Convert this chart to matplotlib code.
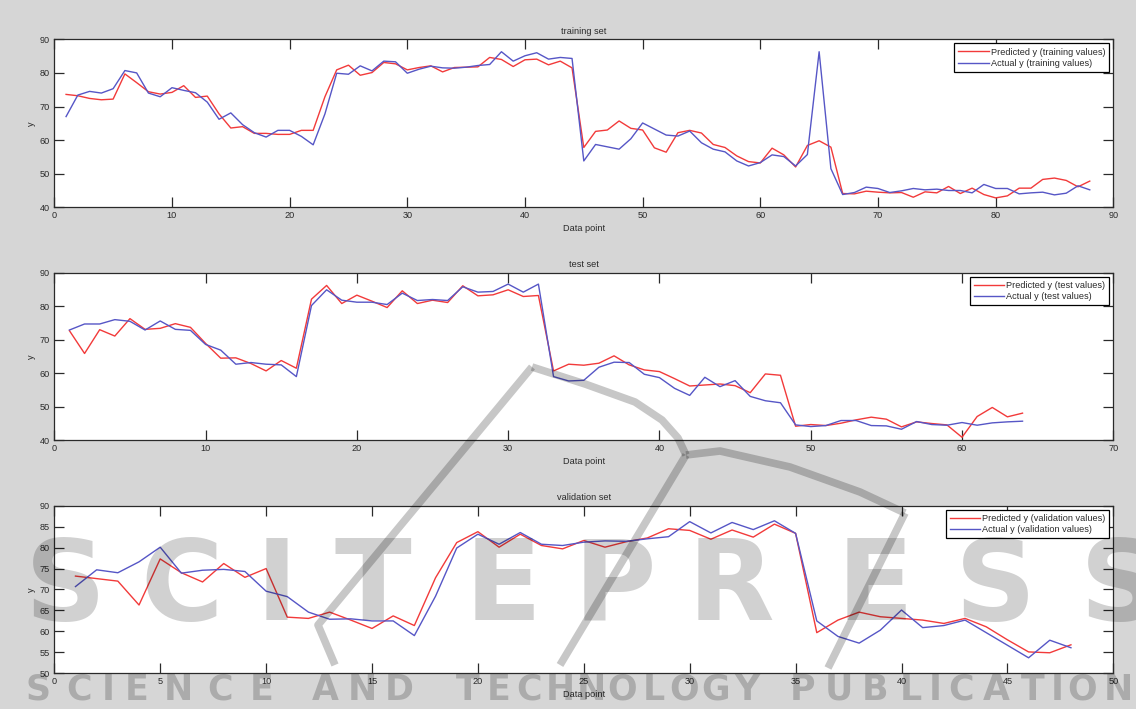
import numpy as np
import matplotlib
matplotlib.use("Agg")
import matplotlib.pyplot as plt

# ---------------------------------------------------------------- data
train_pred = [73.6, 73.2, 72.4, 72.0, 72.2, 79.7, 77.1, 74.4, 73.7, 74.2,
              76.2, 72.7, 73.1, 67.8, 63.6, 64.0, 62.0, 62.0, 61.7, 61.7,
              62.9, 62.9, 72.9, 80.9, 82.3, 79.3, 80.1, 83.1, 82.7, 80.9,
              81.6, 82.1, 80.3, 81.6, 81.7, 81.8, 84.6, 84.0, 81.9, 83.9,
              84.1, 82.4, 83.5, 81.5, 57.8, 62.6, 63.0, 65.7, 63.5, 63.0,
              57.7, 56.4, 62.2, 62.9, 62.1, 58.7, 57.8, 55.3, 53.6, 53.2,
              57.6, 55.6, 52.0, 58.4, 59.8, 57.9, 44.1, 44.0, 44.8, 44.5,
              44.3, 44.4, 43.0, 44.6, 44.3, 46.2, 44.1, 45.7, 43.8, 42.8,
              43.4, 45.7, 45.7, 48.3, 48.7, 48.0, 46.1, 47.8]
train_act = [67.0, 73.4, 74.5, 74.0, 75.3, 80.7, 80.0, 74.0, 72.9, 75.6,
             74.8, 74.1, 71.3, 66.2, 68.1, 64.6, 62.2, 60.9, 62.9, 62.9,
             61.1, 58.6, 67.8, 79.9, 79.6, 82.1, 80.6, 83.5, 83.3, 79.9,
             81.1, 82.0, 81.5, 81.4, 81.7, 82.2, 82.5, 86.3, 83.5, 85.1,
             86.0, 84.1, 84.6, 84.3, 53.8, 58.7, 58.0, 57.3, 60.4, 65.1,
             63.3, 61.5, 61.2, 62.7, 59.2, 57.3, 56.5, 53.8, 52.3, 53.3,
             55.6, 55.1, 52.3, 55.7, 86.3, 51.5, 43.8, 44.4, 46.0, 45.6,
             44.4, 44.9, 45.6, 45.2, 45.4, 45.0, 45.0, 44.3, 46.8, 45.6,
             45.6, 44.0, 44.3, 44.5, 43.7, 44.2, 46.4, 45.2]

test_pred = [72.7, 65.9, 73.0, 71.1, 76.3, 73.1, 73.4, 74.8, 73.7, 68.9,
             64.5, 64.6, 62.9, 60.7, 63.8, 61.5, 82.1, 86.2, 80.8, 83.3,
             81.5, 79.6, 84.6, 80.8, 81.8, 81.1, 86.1, 83.1, 83.4, 84.9,
             82.9, 83.2, 60.7, 62.7, 62.4, 63.0, 65.2, 62.5, 61.0, 60.5,
             58.4, 56.2, 56.5, 56.8, 56.3, 54.2, 59.8, 59.4, 44.2, 44.7,
             44.4, 45.1, 46.1, 46.9, 46.3, 44.0, 45.5, 45.0, 44.6, 40.9,
             47.1, 49.8, 47.0, 48.1]
test_act = [72.9, 74.7, 74.7, 76.0, 75.5, 72.9, 75.6, 73.1, 72.8, 68.6,
            66.9, 62.7, 63.2, 62.7, 62.5, 59.0, 80.2, 84.9, 81.8, 81.2,
            81.2, 80.5, 83.9, 81.7, 82.0, 81.7, 85.8, 84.2, 84.4, 86.6,
            84.2, 86.6, 59.0, 57.7, 57.9, 61.8, 63.3, 63.2, 59.7, 58.7,
            55.5, 53.4, 58.8, 56.0, 57.8, 53.1, 51.8, 51.2, 44.6, 44.1,
            44.4, 45.9, 45.9, 44.4, 44.3, 43.3, 45.6, 44.7, 44.5, 45.3,
            44.5, 45.2, 45.5, 45.7]

valid_pred = [73.2, 72.6, 72.0, 66.3, 77.3, 74.0, 71.8, 76.2, 72.9, 75.0,
              63.4, 63.1, 64.6, 62.7, 60.7, 63.7, 61.4, 72.8, 81.2, 83.8,
              80.1, 83.2, 80.5, 79.7, 81.7, 80.1, 81.4, 82.3, 84.5, 84.1,
              82.0, 84.2, 82.5, 85.6, 83.4, 59.7, 62.7, 64.6, 63.5, 63.1,
              62.7, 61.9, 63.1, 61.1, 58.0, 55.1, 54.9, 56.8]
valid_act = [70.7, 74.7, 74.0, 76.6, 80.1, 73.9, 74.6, 74.8, 74.3, 69.6,
             68.3, 64.6, 62.9, 63.0, 62.5, 62.5, 59.0, 68.4, 79.9, 83.2,
             80.8, 83.6, 80.8, 80.5, 81.3, 81.6, 81.5, 82.1, 82.6, 86.2,
             83.5, 86.0, 84.3, 86.4, 83.4, 62.5, 58.8, 57.2, 60.3, 65.1,
             60.9, 61.4, 62.7, 59.7, 56.7, 53.7, 57.9, 56.1]

panel_titles = ["training set", "test set", "validation set"]
set_names = ["training", "test", "validation"]
x_limits = [(0, 90), (0, 70), (0, 50)]
x_steps = [10, 10, 5]
y_limits = [(40, 90), (40, 90), (50, 90)]
y_steps = [10, 10, 5]

# ---------------------------------------------------------------- style
BG = "#d6d6d6"
RED = "#f23a3a"
BLUE = "#5656c6"
INK = "#2a2a2a"
FS = 6.6
plt.rcParams["font.family"] = ["Liberation Sans", "DejaVu Sans"]

W, H = 1136, 709
fig = plt.figure(figsize=(W / 100, H / 100), dpi=100, facecolor=BG)

panel_px = [(39.3, 207.3), (272.7, 440.3), (505.7, 673.3)]  # top, bottom
left_px, right_px = 54.3, 1113.3

series = [(train_pred, train_act), (test_pred, test_act), (valid_pred, valid_act)]

for i, (pred, act) in enumerate(series):
    top, bot = panel_px[i]
    ax = fig.add_axes([left_px / W, 1 - bot / H,
                       (right_px - left_px) / W, (bot - top) / H])
    ax.set_facecolor("white")
    x = np.arange(1, len(pred) + 1)
    ax.plot(x, pred, color=RED, lw=1.0,
            label=f"Predicted y ({set_names[i]} values)")
    ax.plot(x, act, color=BLUE, lw=1.0,
            label=f"Actual y ({set_names[i]} values)")
    ax.set_xlim(*x_limits[i])
    ax.set_ylim(*y_limits[i])
    ax.set_xticks(np.arange(x_limits[i][0], x_limits[i][1] + 0.1, x_steps[i]))
    ax.set_yticks(np.arange(y_limits[i][0], y_limits[i][1] + 0.1, y_steps[i]))
    ax.tick_params(direction="in", top=True, right=True, length=7.5,
                   width=0.9, color=INK, labelsize=FS, labelcolor=INK)
    ax.tick_params(axis="x", pad=2.5)
    ax.tick_params(axis="y", pad=3)
    for s in ax.spines.values():
        s.set_color(INK)
        s.set_linewidth(0.9)
    ax.set_title(panel_titles[i], fontsize=FS, color=INK, pad=4)
    ax.set_xlabel("Data point", fontsize=FS, color=INK, labelpad=3)
    ax.set_ylabel("y", fontsize=FS, color=INK, labelpad=3)
    leg = ax.legend(loc="upper right", fontsize=FS, frameon=True,
                    fancybox=False, framealpha=1, edgecolor="black",
                    handlelength=3.3, handletextpad=0.2, borderpad=0.45,
                    labelspacing=0.25, borderaxespad=0.45)
    leg.get_frame().set_linewidth(0.9)
    for t in leg.get_texts():
        t.set_color(INK)

# ---------------------------------------------------------------- publisher mark
over = fig.add_axes([0, 0, 1, 1], zorder=10)
over.set_xlim(0, W)
over.set_ylim(H, 0)
over.axis("off")
over.patch.set_alpha(0)

MARK = "black"
logo_strokes = [
    [(335, 665), (318, 625), (532, 367)],
    [(532, 367), (585, 384), (635, 402), (662, 420), (678, 438), (686, 455)],
    [(686, 455), (720, 451), (790, 467), (860, 492), (905, 513)],
    [(686, 455), (560, 665)],
    [(905, 513), (828, 668)],
]
for pts in logo_strokes:
    xs, ys = zip(*pts)
    over.plot(xs, ys, color=MARK, alpha=0.22, lw=5.5,
              solid_capstyle="butt", solid_joinstyle="round")

big_word = "SCITEPRESS"
big_centers = [65, 182, 277, 373, 503, 615, 731, 875, 995, 1120]
for ch, cx in zip(big_word, big_centers):
    over.text(cx, 589, ch, fontsize=81, fontweight="bold", color=MARK,
              alpha=0.18, ha="center", va="center",
              family="DejaVu Sans", clip_on=False)


def spread(word, x0, x1, y, size):
    weights = [0.4 if c == "I" else 1.0 for c in word]
    unit = (x1 - x0) / sum(weights)
    pos = x0
    for c, w in zip(word, weights):
        over.text(pos + w * unit / 2, y, c, fontsize=size, fontweight="bold",
                  color=MARK, alpha=0.2, ha="center", va="center",
                  family="DejaVu Sans", clip_on=False)
        pos += w * unit


small_words = [("SCIENCE", 17, 282), ("AND", 307, 418),
               ("TECHNOLOGY", 452, 762), ("PUBLICATIONS", 785, 1172)]
for word, a, b in small_words:
    spread(word, a, b, 690, 25)

fig.savefig("out.png", dpi=100, facecolor=BG)
